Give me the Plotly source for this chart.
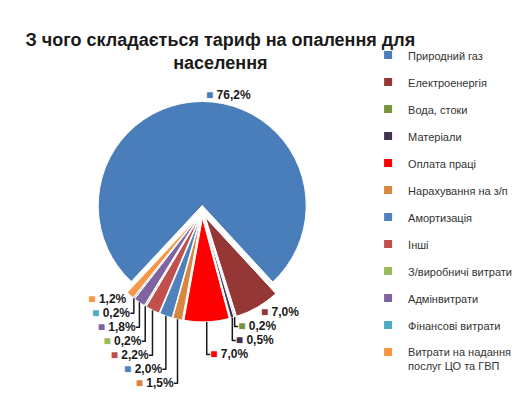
import plotly.graph_objects as go

# Структура тарифу на опалення, %
categories = [
    "Природний газ",
    "Електроенергія",
    "Вода, стоки",
    "Матеріали",
    "Оплата праці",
    "Нарахування на з/п",
    "Амортизація",
    "Інші",
    "З/виробничі витрати",
    "Адмінвитрати",
    "Фінансові витрати",
    "Витрати на надання<br>послуг ЦО та ГВП",
]
values = [76.2, 7.0, 0.2, 0.5, 7.0, 1.5, 2.0, 2.2, 0.2, 1.8, 0.2, 1.2]
colors = [
    "#4A7EBB", "#953735", "#77933C", "#403152", "#FF0000", "#D9863E",
    "#4F81BD", "#C0504D", "#9BBB59", "#8064A2", "#4BACC6", "#F79646",
]

# підписи у стилі Excel: кольоровий квадрат + відсоток з комою
texts = [
    f"<span style='color:{c}'>■</span> <b>" + f"{v:.1f}".replace(".", ",") + "%</b>"
    for v, c in zip(values, colors)
]

fig = go.Figure()
fig.add_trace(go.Pie(
    labels=[c.replace("<br>", " ") for c in categories],
    values=values,
    text=texts,
    textinfo="text",
    textposition="outside",
    sort=False,
    direction="clockwise",
    rotation=223,
    pull=0.06,
    marker=dict(colors=colors, line=dict(color="white", width=1)),
    outsidetextfont=dict(family="Liberation Sans", size=12, color="#1a1a1a"),
    domain=dict(x=[0.0, 0.6], y=[0.0, 0.75]),
    showlegend=False,
    hoverinfo="label+percent",
))

# легенда окремими елементами, щоб задати відступи між рядками
for name, c in zip(categories, colors):
    fig.add_trace(go.Scatter(
        x=[None], y=[None], mode="markers", name=name, legendgroup=name,
        marker=dict(symbol="square", size=8, color=c),
    ))

fig.update_layout(
    width=531,
    height=400,
    paper_bgcolor="white",
    plot_bgcolor="white",
    margin=dict(l=10, r=5, t=20, b=5),
    title=dict(
        text="<b>З чого складається тариф на опалення для<br>населення</b>",
        x=0.4, xanchor="center", y=0.905, yanchor="top",
        font=dict(family="Liberation Sans", size=18, color="#1a1a1a"),
    ),
    legend=dict(
        x=0.65, y=0.955, xanchor="left", yanchor="top",
        font=dict(family="Liberation Sans", size=11, color="#333333"),
        tracegroupgap=8,
        traceorder="grouped",
        valign="top",
        bgcolor="rgba(0,0,0,0)",
    ),
    xaxis=dict(visible=False),
    yaxis=dict(visible=False),
    font=dict(family="Liberation Sans"),
)

# щоб легенда не згорталась у прокрутку
try:
    fig.update_layout(legend_maxheight=400)
except ValueError:
    pass

fig.write_html("out.html")
